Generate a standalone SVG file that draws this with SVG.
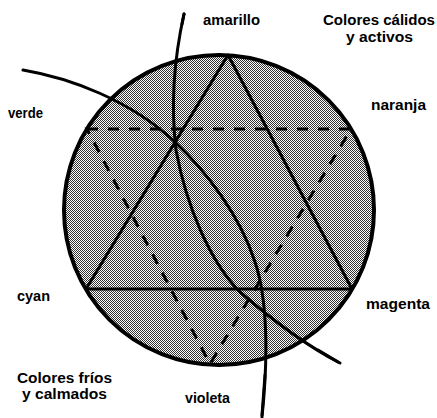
<svg xmlns="http://www.w3.org/2000/svg" width="437" height="418" viewBox="0 0 437 418">
<defs>
<pattern id="dither" width="2" height="2" patternUnits="userSpaceOnUse">
<rect width="2" height="2" fill="#fff"/>
<rect x="0" y="0" width="1" height="1" fill="#333"/>
<rect x="1" y="1" width="1" height="1" fill="#333"/>
</pattern>
</defs>
<style>
.ln{fill:none;stroke:#000;stroke-width:3;stroke-linecap:round;stroke-linejoin:round}
.dash{fill:none;stroke:#000;stroke-width:3;stroke-dasharray:11 10}
.lbl{font-family:"Liberation Sans",Arial,sans-serif;font-weight:bold;font-size:14px;fill:#000}
</style>
<rect width="437" height="418" fill="#fff"/>
<g id="wheel">
<circle cx="219" cy="210" r="155" fill="url(#dither)" stroke="#000" stroke-width="4"/>
</g>
<g id="triangle-solid">
<polygon class="ln" points="228,55 86,289 352,289"/>
</g>
<g id="triangle-dashed">
<polygon class="dash" points="87,129 351,129 210,364"/>
</g>
<g id="connectors">
<path class="ln" d="M184,14 C176,50 170,100 176,150 C186,205 210,262 240,292 C270,318 305,345 340,363"/>
<path class="ln" d="M23,70 C70,78 130,100 175,142 C205,170 240,215 255,262 C268,300 268,360 262,417"/>
<path class="ln" d="M184,14 L182,24" stroke-width="5"/>
<path class="ln" d="M265,375 L262,415" stroke-width="4.5"/>
<path class="ln" d="M318,350 L338,362" stroke-width="4.5"/>
</g>
<g id="label-amarillo"><text class="lbl" x="203" y="25" textLength="57" lengthAdjust="spacingAndGlyphs">amarillo</text></g>
<g id="label-calidos">
<text class="lbl" x="323" y="25" textLength="112" lengthAdjust="spacingAndGlyphs">Colores cálidos</text>
<text class="lbl" x="346" y="42" textLength="67" lengthAdjust="spacingAndGlyphs">y activos</text>
</g>
<g id="label-naranja"><text class="lbl" x="371" y="110" textLength="55" lengthAdjust="spacingAndGlyphs">naranja</text></g>
<g id="label-verde"><text class="lbl" x="8" y="118" textLength="35" lengthAdjust="spacingAndGlyphs">verde</text></g>
<g id="label-cyan"><text class="lbl" x="17" y="301" textLength="33" lengthAdjust="spacingAndGlyphs">cyan</text></g>
<g id="label-magenta"><text class="lbl" x="366" y="309" textLength="64" lengthAdjust="spacingAndGlyphs">magenta</text></g>
<g id="label-frios">
<text class="lbl" x="17" y="383" textLength="95" lengthAdjust="spacingAndGlyphs">Colores fríos</text>
<text class="lbl" x="22" y="399" textLength="85" lengthAdjust="spacingAndGlyphs">y calmados</text>
</g>
<g id="label-violeta"><text class="lbl" x="185" y="403" textLength="45" lengthAdjust="spacingAndGlyphs">violeta</text></g>
</svg>
